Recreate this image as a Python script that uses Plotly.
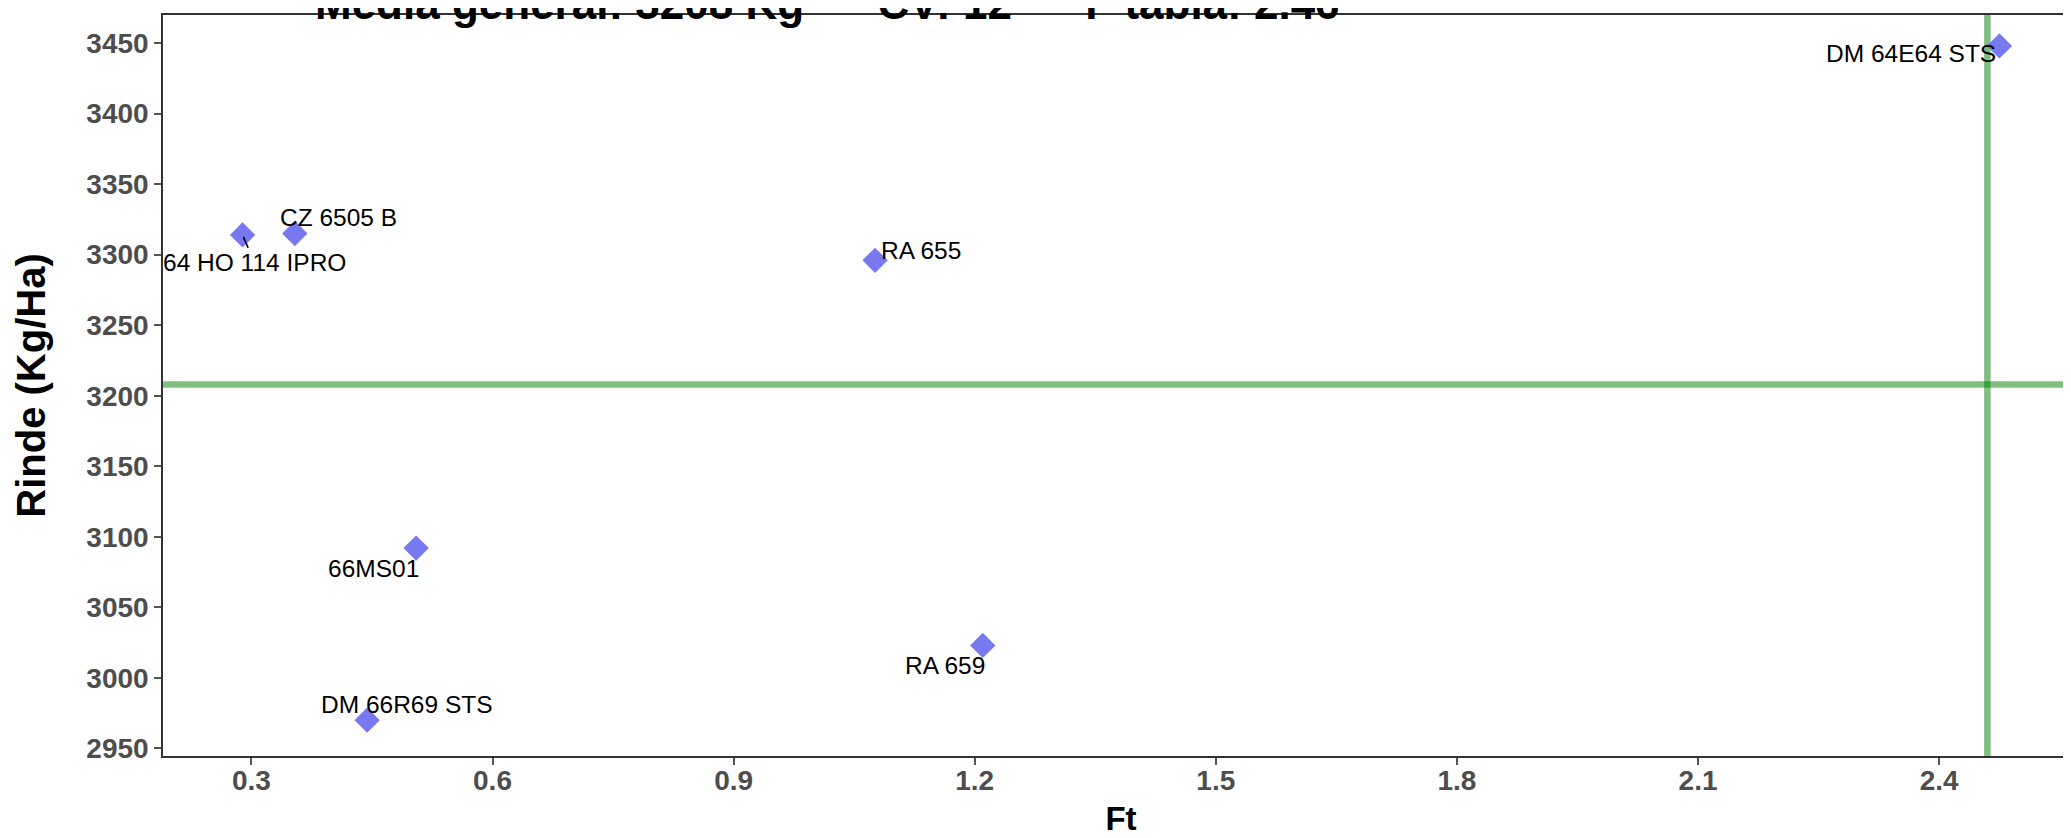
import plotly.graph_objects as go

# ---- data ----
genotipos = ["64 HO 114 IPRO", "CZ 6505 B", "RA 655", "66MS01", "RA 659", "DM 66R69 STS", "DM 64E64 STS"]
ft = [0.289, 0.354, 1.076, 0.505, 1.210, 0.444, 2.475]
rinde = [3314, 3315, 3296, 3092, 3023, 2970, 3448]
media_general = 3208
cv = 12
f_tabla = 2.46
x_ticks = [0.3, 0.6, 0.9, 1.2, 1.5, 1.8, 2.1, 2.4]
y_ticks = [2950, 3000, 3050, 3100, 3150, 3200, 3250, 3300, 3350, 3400, 3450]

# label offsets in pixels (dx right, dy down) – ggrepel-like placement
label_dx = [12, 44, 46, -43, -38, 40, -88]
label_dy = [28, -16, -10, 20, 20, -16, 8]
label_arrow = [True, False, False, False, False, False, False]

FONT = "Liberation Sans, Arial, sans-serif"
x_range = [0.19, 2.574]
y_range = [2944.6, 3469.9]

fig = go.Figure()

# reference lines
fig.add_trace(go.Scatter(x=x_range, y=[media_general, media_general], mode="lines",
                         line=dict(color="rgba(0,128,0,0.5)", width=6.5),
                         hoverinfo="skip", showlegend=False))
fig.add_trace(go.Scatter(x=[f_tabla, f_tabla], y=y_range, mode="lines",
                         line=dict(color="rgba(0,128,0,0.5)", width=6.5),
                         hoverinfo="skip", showlegend=False))

# points
fig.add_trace(go.Scatter(x=ft, y=rinde, mode="markers", text=genotipos,
                         marker=dict(symbol="diamond", size=19.5, color="rgba(105,105,240,0.9)",
                                     line=dict(width=0)),
                         showlegend=False))

annotations = []
for g, xv, yv, dx, dy, arr in zip(genotipos, ft, rinde, label_dx, label_dy, label_arrow):
    if arr:
        annotations.append(dict(x=xv, y=yv, xref="x", yref="y", text=g, showarrow=True,
                                ax=dx, ay=dy, arrowhead=0, arrowwidth=1.6, arrowcolor="black",
                                standoff=2, font=dict(family=FONT, size=24.5, color="black")))
    else:
        annotations.append(dict(x=xv, y=yv, xref="x", yref="y", text=g, showarrow=False,
                                xshift=dx, yshift=-dy,
                                font=dict(family=FONT, size=24.5, color="black")))

sp = "\u00a0" * 6
title_text = f"<b>Media general: {media_general} Kg{sp}CV: {cv}{sp}F tabla: {f_tabla:.2f}</b>"
annotations.append(dict(x=0.3466, y=1, xref="paper", yref="paper", text=title_text,
                        showarrow=False, xanchor="center", yanchor="bottom", yshift=-15,
                        font=dict(family=FONT, size=44, color="black")))

fig.update_layout(
    width=2071, height=838,
    margin=dict(l=155, r=0, t=7, b=90),
    paper_bgcolor="white", plot_bgcolor="white",
    annotations=annotations,
    xaxis=dict(range=x_range, tickvals=x_ticks, ticktext=[f"{v:.1f}" for v in x_ticks],
               showgrid=False, zeroline=False, showline=True, linecolor="#333333", linewidth=1.5,
               mirror=True, ticks="outside", ticklen=7, tickwidth=1.5, tickcolor="#555555",
               ticklabelstandoff=-8,
               tickfont=dict(family=FONT, size=28, color="#4D4D4D", weight="bold"),
               title=dict(text="<b>Ft</b>", font=dict(family=FONT, size=33, color="black"), standoff=12)),
    yaxis=dict(range=y_range, tickvals=y_ticks,
               showgrid=False, zeroline=False, showline=True, linecolor="#333333", linewidth=1.5,
               ticks="outside", ticklen=7, tickwidth=1.5, tickcolor="#555555",
               tickfont=dict(family=FONT, size=28, color="#4D4D4D", weight="bold"),
               title=dict(text="<b>Rinde (Kg/Ha)</b>", font=dict(family=FONT, size=40, color="black"), standoff=28)),
)

fig.write_html("out.html")
